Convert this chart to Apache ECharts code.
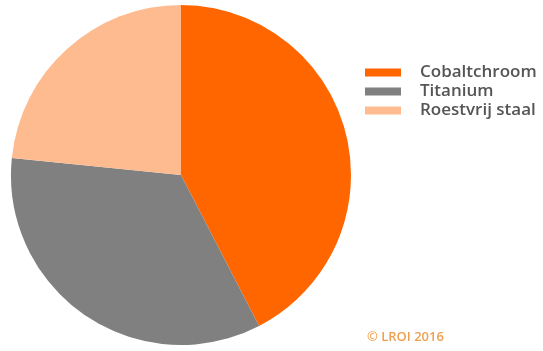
<!DOCTYPE html>
<html>
<head>
<meta charset="utf-8">
<script src="https://cdn.jsdelivr.net/npm/echarts@6/dist/echarts.min.js"></script>
<style>
  html, body { margin: 0; padding: 0; background: #fff; }
  #chart { width: 543px; height: 351px; }
</style>
</head>
<body>
<div id="chart"></div>
<script>
// Share of implant materials
const categories = ['Cobaltchroom', 'Titanium', 'Roestvrij staal'];
const shares = [42.4, 34.2, 23.4];
const colors = ['#ff6600', '#808080', '#ffbb90'];

const chart = echarts.init(document.getElementById('chart'), null, { renderer: 'canvas' });
chart.setOption({
  animation: false,
  color: colors,
  legend: {
    orient: 'vertical',
    left: 365,
    top: 63,
    padding: 0,
    itemWidth: 36,
    itemHeight: 8,
    itemGap: 0,
    icon: 'rect',
    data: categories,
    textStyle: {
      fontFamily: 'Open Sans',
      fontWeight: 600,
      fontSize: 17,
      color: '#555555',
      lineHeight: 19,
      padding: [0, 0, 0, 14]
    },
    selectedMode: false
  },
  graphic: [{
    type: 'text',
    left: 367,
    top: 331,
    style: {
      text: '© LROI 2016',
      font: '600 13px "Open Sans"',
      fill: '#f0a050'
    }
  }],
  series: [{
    type: 'pie',
    center: [181, 175],
    radius: [0, 170],
    startAngle: 90,
    clockwise: true,
    label: { show: false },
    labelLine: { show: false },
    emphasis: { disabled: true },
    itemStyle: { borderWidth: 0 },
    data: categories.map((name, i) => ({ name, value: shares[i] }))
  }]
});
</script>
</body>
</html>
